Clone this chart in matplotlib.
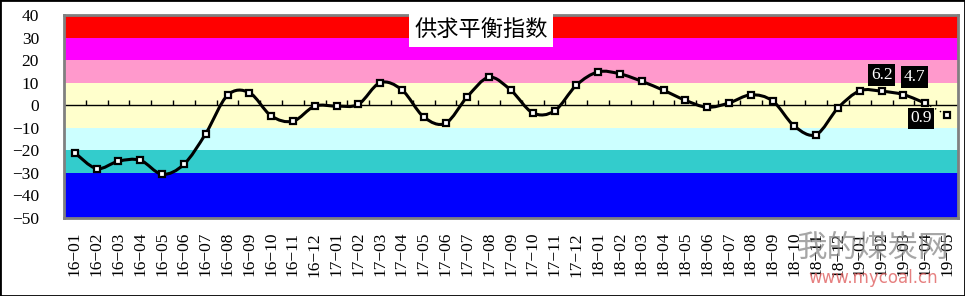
import matplotlib.pyplot as plt
from matplotlib.path import Path
from matplotlib.patches import PathPatch, Rectangle

plt.rcParams['font.family'] = ['Liberation Serif', 'Noto Sans CJK SC', 'DejaVu Sans']

# 数据
months = ['16-01', '16-02', '16-03', '16-04', '16-05', '16-06', '16-07', '16-08', '16-09', '16-10', '16-11', '16-12',
          '17-01', '17-02', '17-03', '17-04', '17-05', '17-06', '17-07', '17-08', '17-09', '17-10', '17-11', '17-12',
          '18-01', '18-02', '18-03', '18-04', '18-05', '18-06', '18-07', '18-08', '18-09', '18-10', '18-11', '18-12',
          '19-01', '19-02', '19-03', '19-04', '19-05']
index_vals = [-21.1, -28.1, -24.8, -24.4, -30.6, -26.2, -12.6, 4.4, 5.6, -4.7, -7.1, -0.4,
              -0.4, 0.4, 10.0, 6.8, -5.2, -8.0, 3.8, 12.4, 6.6, -3.4, -2.5, 8.9,
              14.8, 13.9, 10.6, 6.6, 2.2, -0.9, 1.0, 4.6, 1.9, -9.3, -13.0, -1.2,
              6.4, 6.2, 4.7, 0.9, -4.4]
labelled = {'19-02': '6.2', '19-03': '4.7', '19-04': '0.9'}

# 背景色带
band_edges = [-50, -30, -20, -10, 10, 20, 30, 40]
band_colors = ['#0000FF', '#33CCCC', '#CCFFFF', '#FFFFCC', '#FF99CC', '#FF00FF', '#FF0000']

fig = plt.figure(figsize=(9.65, 2.96), dpi=100)
ax = fig.add_axes([0.0663, 0.2635, 0.9264, 0.6858])

for lo, hi, c in zip(band_edges[:-1], band_edges[1:], band_colors):
    ax.axhspan(lo, hi, color=c, lw=0, zorder=0)

x = list(range(len(months)))
n_line = len(months) - 1  # 最后一个月未连线

# 平滑曲线（三次贝塞尔）
pts = list(zip(x[:n_line], index_vals[:n_line]))
verts = [pts[0]]
codes = [Path.MOVETO]
for i in range(len(pts) - 1):
    p0 = pts[i - 1] if i > 0 else pts[i]
    p1 = pts[i]
    p2 = pts[i + 1]
    p3 = pts[i + 2] if i + 2 < len(pts) else pts[i + 1]
    c1 = (p1[0] + (p2[0] - p0[0]) / 6, p1[1] + (p2[1] - p0[1]) / 6)
    c2 = (p2[0] - (p3[0] - p1[0]) / 6, p2[1] - (p3[1] - p1[1]) / 6)
    verts += [c1, c2, p2]
    codes += [Path.CURVE4] * 3
ax.add_patch(PathPatch(Path(verts, codes), fill=False, ec='black', lw=2.2, zorder=3))
ax.plot(x[n_line - 1:], index_vals[n_line - 1:], color='black', lw=1, ls=(0, (1, 3)), zorder=3)
ax.plot(x, index_vals, ls='none', marker='s', ms=5, mfc='white', mec='black', mew=1.6, zorder=4)

# 零轴及刻度
ax.axhline(0, color='black', lw=1, zorder=2)
ax.vlines([i + 0.5 for i in x[:-1]], 0, 2.4, color='black', lw=1, zorder=2)

# 数据标签
offsets = {'19-02': (0, 6, 'bottom'), '19-03': (8, 7, 'bottom'), '19-04': (-3, -5, 'top')}
for m, txt in labelled.items():
    i = months.index(m)
    dx, dy, va = offsets[m]
    ax.annotate(txt, (i, index_vals[i]), xytext=(dx, dy), textcoords='offset points',
                ha='center', va=va, color='white', fontsize=12.5, zorder=5,
                bbox=dict(boxstyle='square,pad=0.15', fc='black', ec='none'))

ax.set_xlim(-0.5, len(months) - 0.5)
ax.set_ylim(-50, 40)
ax.set_yticks(range(-50, 41, 10))
ax.set_xticks(x)
ax.set_xticklabels([m.replace('-', '\u2212') for m in months], rotation=90, fontsize=12.5)
ax.tick_params(axis='x', length=0, pad=10)
ax.tick_params(axis='y', length=0, pad=18, labelsize=12.5)
for s in ax.spines.values():
    s.set_color('#808080')
    s.set_linewidth(2)

# 标题
ax.text(0.4663, 0.985, '供求平衡指数', transform=ax.transAxes, ha='center', va='top',
        fontsize=16, family=['Noto Sans CJK SC'], zorder=6,
        bbox=dict(boxstyle='square,pad=0.25', fc='white', ec='none'))

# 水印
fig.text(0.905, 0.16, '我的煤炭网', ha='center', va='center', fontsize=22, color='#808080',
         alpha=0.7, family=['Noto Sans CJK SC'])
fig.text(0.905, 0.06, 'www.mycoal.cn', ha='center', va='center', fontsize=12, color='#E06060',
         alpha=0.8, family=['DejaVu Sans'])

fig.patches.append(Rectangle((0, 0), 1, 1, transform=fig.transFigure, fill=False,
                             ec='black', lw=2, zorder=10))

plt.savefig('out.png', dpi=100)
